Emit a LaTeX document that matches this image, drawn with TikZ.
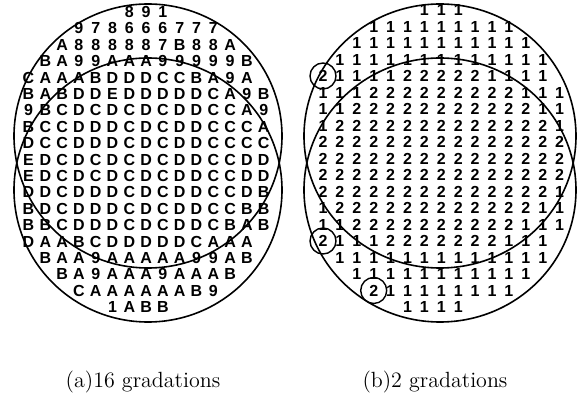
\documentclass[tikz,border=0pt]{standalone}
\usepackage{fontspec}
\newfontfamily\gridfont{Liberation Sans}
\tikzset{
  lch/.style={font=\gridfont\bfseries\fontsize{8}{9}\selectfont, inner sep=0pt},
  wafer/.style={line width=0.8pt},
  ring/.style={line width=0.7pt},
  lbl/.style={font=\fontsize{11}{13}\selectfont, inner sep=0pt}
}
\newcommand\wrowL[3]{\foreach \ch [count=\k from #2] in {#3} {\node[lch] (L-#1-\k) at ({28.5+16.8*\k},{12+16.4*#1}) {\ch};}}
\newcommand\wrowR[3]{\foreach \ch [count=\k from #2] in {#3} {\node[lch] (R-#1-\k) at ({323+16.9*\k},{10+16.5*#1}) {\ch};}}
\begin{document}
\begin{tikzpicture}[x=0.5pt,y=-0.5pt]
\useasboundingbox (0,0) rectangle (580,401);
% ---- left wafer: 16 gradations ----
\draw[wafer] (148,136) ellipse [x radius=134, y radius=132];
\draw[wafer] (148,190) ellipse [x radius=134, y radius=132];
\wrowL{0}{6}{8,9,1}
\wrowL{1}{3}{9,7,8,6,6,6,7,7,7}
\wrowL{2}{2}{A,8,8,8,8,8,7,B,8,8,A}
\wrowL{3}{1}{B,A,9,9,A,A,A,9,9,9,9,9,B}
\wrowL{4}{0}{C,A,A,A,B,D,D,D,C,C,B,A,9,A}
\wrowL{5}{0}{B,A,B,D,D,E,D,D,D,D,D,C,A,9,B}
\wrowL{6}{0}{9,B,C,D,C,D,C,D,C,D,D,C,C,A,9}
\wrowL{7}{0}{B,C,C,D,D,D,C,D,C,D,D,C,C,C,A}
\wrowL{8}{0}{D,C,C,D,D,D,C,D,C,D,D,C,C,C,C}
\wrowL{9}{0}{E,D,C,D,C,D,C,D,C,D,D,C,C,D,D}
\wrowL{10}{0}{E,D,C,D,C,D,C,D,C,D,D,C,C,D,D}
\wrowL{11}{0}{D,D,C,D,D,D,C,D,C,D,D,C,C,D,B}
\wrowL{12}{0}{B,D,C,D,D,D,C,D,C,D,D,C,C,B,B}
\wrowL{13}{0}{B,B,C,D,D,D,C,D,C,D,D,C,B,A,B}
\wrowL{14}{0}{D,A,A,B,C,D,D,D,D,D,C,A,A,A}
\wrowL{15}{1}{B,A,A,9,A,A,A,A,A,9,9,A,B}
\wrowL{16}{2}{B,A,9,A,A,A,9,A,A,A,B}
\wrowL{17}{3}{C,A,A,A,A,A,A,B,9}
\wrowL{18}{5}{1,A,B,B}
% ---- right wafer: 2 gradations ----
\draw[wafer] (440,136) ellipse [x radius=136, y radius=132];
\draw[wafer] (440,190) ellipse [x radius=136, y radius=132];
\wrowR{0}{6}{1,1,1}
\wrowR{1}{3}{1,1,1,1,1,1,1,1,1}
\wrowR{2}{2}{1,1,1,1,1,1,1,1,1,1,1}
\wrowR{3}{1}{1,1,1,1,1,1,1,1,1,1,1,1,1}
\wrowR{4}{0}{2,1,1,1,1,2,2,2,2,2,1,1,1,1}
\wrowR{5}{0}{1,1,1,2,2,2,2,2,2,2,2,2,1,1,1}
\wrowR{6}{0}{1,1,2,2,2,2,2,2,2,2,2,2,2,1,1}
\wrowR{7}{0}{1,2,2,2,2,2,2,2,2,2,2,2,2,2,1}
\wrowR{8}{0}{2,2,2,2,2,2,2,2,2,2,2,2,2,2,2}
\wrowR{9}{0}{2,2,2,2,2,2,2,2,2,2,2,2,2,2,2}
\wrowR{10}{0}{2,2,2,2,2,2,2,2,2,2,2,2,2,2,2}
\wrowR{11}{0}{2,2,2,2,2,2,2,2,2,2,2,2,2,2,1}
\wrowR{12}{0}{1,2,2,2,2,2,2,2,2,2,2,2,2,1,1}
\wrowR{13}{0}{1,1,2,2,2,2,2,2,2,2,2,2,1,1,1}
\wrowR{14}{0}{2,1,1,1,2,2,2,2,2,2,2,1,1,1}
\wrowR{15}{1}{1,1,1,1,1,1,1,1,1,1,1,1,1}
\wrowR{16}{2}{1,1,1,1,1,1,1,1,1,1,1}
\wrowR{17}{3}{2,1,1,1,1,1,1,1,1}
\wrowR{18}{5}{1,1,1,1}
\draw[ring] (R-4-0) circle (13);
\draw[ring] (R-14-0) circle (13);
\draw[ring] (R-17-3) circle (13);
% ---- captions ----
\node[lbl] (capA) at (143,382) {(a)16 gradations};
\node[lbl] (capB) at (435,382) {(b)2 gradations};
\end{tikzpicture}
\end{document}
